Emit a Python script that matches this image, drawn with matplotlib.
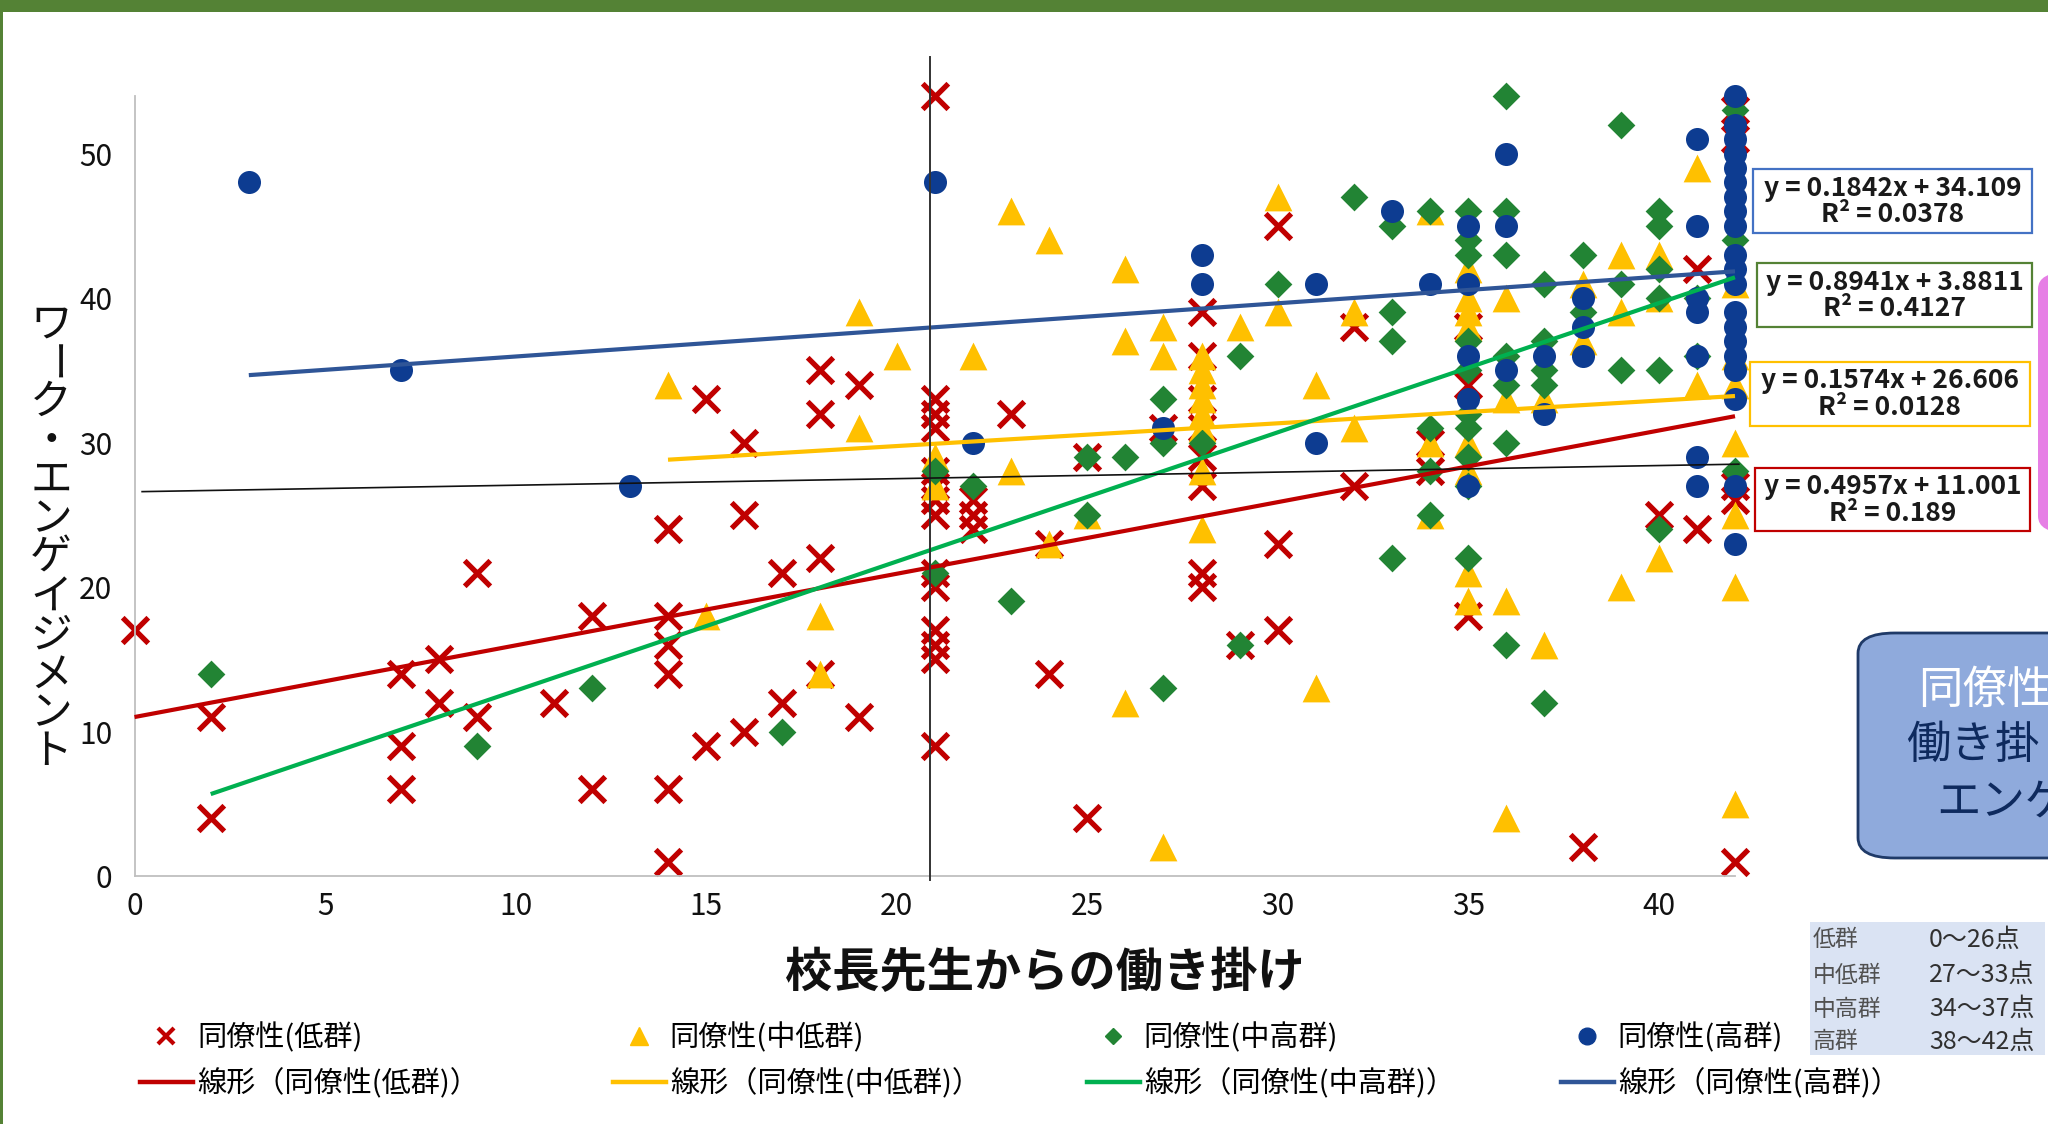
import matplotlib
matplotlib.use("Agg")
import matplotlib.pyplot as plt
import numpy as np
from matplotlib.lines import Line2D
from matplotlib.patches import Rectangle, FancyBboxPatch

plt.rcParams['font.family'] = ['Noto Sans CJK JP', 'DejaVu Sans']

# ---------------- data ----------------
# x: 校長先生からの働き掛け (score), y: ワーク・エンゲイジメント
# Each group: x columns and the y values observed at each column.
low_cols = [0, 2, 7, 8, 9, 11, 12, 14, 15, 16, 17, 18, 19, 21, 22, 23, 24, 25, 27, 28,
            29, 30, 32, 34, 35, 38, 40, 41, 42]
low_vals = [[17], [11, 4], [14, 9, 6], [15, 12], [21, 11], [12], [18, 6],
            [24, 18, 16, 14, 6, 1], [33, 9], [30, 25, 10], [21, 12], [35, 32, 22, 14],
            [34, 11], [54, 33, 32, 31, 28, 27, 26, 25, 21, 20, 17, 16, 15, 9],
            [26, 25, 24], [32], [23, 14], [29, 4], [31], [39, 36, 33, 31, 29, 27, 21, 20],
            [16], [45, 23, 17], [38, 27], [30, 28], [38, 34, 18], [2], [25], [42, 24],
            [53, 51, 27, 26, 1]]

midlow_cols = [14, 15, 18, 19, 20, 21, 22, 23, 24, 25, 26, 27, 28, 29, 30, 31, 32, 34,
               35, 36, 37, 38, 39, 40, 41, 42]
midlow_vals = [[34], [18], [18, 14], [39, 31], [36], [29, 27], [36], [46, 28], [44, 23],
               [25], [42, 37, 12], [38, 36, 2], [36, 35, 34, 33, 32, 31, 28, 24], [38],
               [47, 39], [34, 13], [39, 31], [46, 30, 25], [42, 40, 39, 38, 30, 28, 21, 19],
               [40, 33, 19, 4], [33, 16], [41, 37], [43, 39, 20], [43, 40, 22], [49, 34],
               [41, 36, 34, 30, 25, 20, 5]]

midhigh_cols = [2, 9, 12, 17, 21, 22, 23, 25, 26, 27, 28, 29, 30, 32, 33, 34, 35, 36, 37,
                38, 39, 40, 41, 42]
midhigh_vals = [[14], [9], [13], [10], [28, 21], [27], [19], [29, 25], [29], [33, 30, 13],
                [30], [36, 16], [41], [47], [45, 39, 37, 22], [46, 31, 28, 25],
                [46, 44, 43, 37, 35, 32, 31, 29, 27, 22], [54, 46, 43, 36, 34, 30, 16],
                [41, 37, 35, 34, 12], [43, 39], [52, 41, 35], [46, 45, 42, 40, 35, 24],
                [40, 36], [53, 44, 28]]

high_cols = [3, 7, 13, 21, 22, 27, 28, 31, 33, 34, 35, 36, 37, 38, 41, 42]
high_vals = [[48], [35], [27], [48], [30], [31], [43, 41], [41, 30], [46], [41],
             [45, 41, 36, 33, 27], [50, 45, 35], [36, 32], [40, 38, 36],
             [51, 45, 40, 39, 36, 29, 27],
             [54, 52, 51, 50, 49, 48, 47, 46, 45, 43, 42, 41, 39, 38, 37, 36, 35, 33, 27, 23]]

group_names = ['同僚性(低群)', '同僚性(中低群)', '同僚性(中高群)', '同僚性(高群)']

# Linear trend lines (slope, intercept, R²) per group
trend_slope = [0.4957, 0.1574, 0.8941, 0.1842]
trend_icept = [11.001, 26.606, 3.8811, 34.109]
trend_r2 = ['0.189', '0.0128', '0.4127', '0.0378']

# Reference lines
divider_x = 20.87
divider_top = 56.7
ref_line_x = [0.2, 42.1]
ref_line_y = [26.6, 28.5]

# Group score ranges
range_labels = ['低群', '中低群', '中高群', '高群']
range_values = ['0～26点', '27～33点', '34～37点', '38～42点']

box_lines = ['同僚性', '働き掛', 'エンゲ']

# ---------------- styling ----------------
W, H = 2048, 1124
def fx(px):
    return px / W
def fy(py):
    return 1 - py / H

marker_col = ['#C00000', '#FFC000', '#228434', '#0D3C91']
trend_col = ['#C00000', '#FFC000', '#00B050', '#2F5597']
box_edge = ['#C00000', '#FFC000', '#548235', '#4472C4']

fig = plt.figure(figsize=(W / 100, H / 100), dpi=100)
fig.patch.set_facecolor('white')

ax = fig.add_axes([fx(134.5), fy(876), fx(1735) - fx(134.5), fy(95.7) - fy(876)])
ax.set_xlim(0, 42)
ax.set_ylim(0, 54)
ax.set_xticks(np.arange(0, 41, 5))
ax.set_yticks(np.arange(0, 51, 10))
ax.tick_params(axis='both', length=0, labelsize=21.5, colors='#111111')
ax.tick_params(axis='x', pad=11)
ax.tick_params(axis='y', pad=16)
for s in ['top', 'right']:
    ax.spines[s].set_visible(False)
for s in ['left', 'bottom']:
    ax.spines[s].set_color('#BFBFBF')
    ax.spines[s].set_linewidth(1.3)

def expand(cols, vals):
    xs = np.repeat(cols, [len(v) for v in vals])
    ys = np.concatenate([np.asarray(v, dtype=float) for v in vals])
    return xs.astype(float), ys

series = [expand(low_cols, low_vals), expand(midlow_cols, midlow_vals),
          expand(midhigh_cols, midhigh_vals), expand(high_cols, high_vals)]

# markers: low (x), mid-low (triangle), mid-high (diamond), high (circle)
ax.scatter(*series[0], marker='x', s=340, linewidths=3.8, color=marker_col[0],
           zorder=2, clip_on=False)
ax.scatter(*series[1], marker='^', s=400, linewidths=0, color=marker_col[1],
           zorder=3, clip_on=False)
ax.scatter(*series[2], marker='D', s=200, linewidths=0, color=marker_col[2],
           zorder=4, clip_on=False)
ax.scatter(*series[3], marker='o', s=275, linewidths=0, color=marker_col[3],
           zorder=5, clip_on=False)

# trend lines over each group's x range
for i, (xs, ys) in enumerate(series):
    tx = np.array([xs.min(), xs.max()])
    ax.plot(tx, trend_slope[i] * tx + trend_icept[i], color=trend_col[i], lw=3.0,
            zorder=6, solid_capstyle='butt', clip_on=False)

ax.plot([divider_x, divider_x], [-0.3, divider_top], color='#333333', lw=1.4,
        zorder=7, clip_on=False)
ax.plot(ref_line_x, ref_line_y, color='#111111', lw=1.2, zorder=7, clip_on=False)

# axis titles
fig.text(fx(1045), fy(973), '校長先生からの働き掛け', fontsize=34, fontweight='bold',
         ha='center', va='center', color='#111111')
ylabel_chars = list('ワーク・エンゲイジメント')
y0, pitch = 325, 38.9
for k, ch in enumerate(ylabel_chars):
    rot = 270 if ch == 'ー' else 0
    fig.text(fx(51), fy(y0 + k * pitch), ch, fontsize=30, ha='center', va='center',
             rotation=rot, color='#111111')

# equation boxes (blue, green, yellow, red from top)
eq_order = [3, 2, 1, 0]
eq_boxes = [(1753, 169, 2032, 233), (1757, 263, 2032, 327),
            (1750, 362, 2030, 426), (1755, 468, 2030, 531)]
for gi, (x0, y0b, x1, y1b) in zip(eq_order, eq_boxes):
    fig.patches.append(Rectangle((fx(x0), fy(y1b)), fx(x1) - fx(x0), fy(y0b) - fy(y1b),
                                 transform=fig.transFigure, facecolor='white',
                                 edgecolor=box_edge[gi], lw=1.6, zorder=5))
    cx = (x0 + x1) / 2
    cy = (y0b + y1b) / 2
    fig.text(fx(cx), fy(cy - 13), f'y = {trend_slope[gi]}x + {trend_icept[gi]}',
             fontsize=19, fontweight='bold', ha='center', va='center', color='#1a1a1a',
             zorder=6)
    fig.text(fx(cx), fy(cy + 14), f'R² = {trend_r2[gi]}', fontsize=19,
             fontweight='bold', ha='center', va='center', color='#1a1a1a', zorder=6)

# side call-out shapes
fig.patches.append(FancyBboxPatch((fx(2038), fy(533)), fx(300), fy(272) - fy(533),
                                  boxstyle='round,pad=0,rounding_size=0.015',
                                  transform=fig.transFigure, facecolor='#E67FE5',
                                  edgecolor='none', zorder=1))
fig.patches.append(FancyBboxPatch((fx(1858), fy(858)), fx(400), fy(633) - fy(858),
                                  boxstyle='round,pad=0,rounding_size=0.018',
                                  transform=fig.transFigure, facecolor='#8FAADC',
                                  edgecolor='#1F3A68', lw=2, zorder=1))
box_starts = [(1918, 690, 'white'), (1906, 745, '#0E2A5E'), (1936, 802, '#0E2A5E')]
for txt, (bx, by, bc) in zip(box_lines, box_starts):
    fig.text(fx(bx), fy(by), txt, fontsize=32, ha='left', va='center', color=bc,
             zorder=3)

# group range table
fig.patches.append(Rectangle((fx(1810), fy(1055)), fx(2045) - fx(1810), fy(922) - fy(1055),
                             transform=fig.transFigure, facecolor='#DAE3F3',
                             edgecolor='none', zorder=1))
for k, (lab, val) in enumerate(zip(range_labels, range_values)):
    yy = [940, 975, 1009, 1042][k]
    fig.text(fx(1813), fy(yy), lab, fontsize=16.5, ha='left', va='center', color='#505050')
    fig.text(fx(1929), fy(yy), val, fontsize=18, ha='left', va='center', color='#303030')

# legend: one two-row column per group
leg_markers = [dict(marker='x', markersize=12, mew=3.0), dict(marker='^', markersize=13),
               dict(marker='D', markersize=8.5), dict(marker='o', markersize=12)]
leg_left = [140, 613, 1087, 1561]
for i in range(4):
    h1 = Line2D([], [], ls='', color=marker_col[i], mec=marker_col[i], **leg_markers[i])
    h2 = Line2D([], [], color=trend_col[i], lw=3.2)
    lg = fig.legend([h1, h2], [group_names[i], f'線形（{group_names[i]}）'],
                    loc='center left', bbox_to_anchor=(fx(leg_left[i]), fy(1061)),
                    bbox_transform=fig.transFigure, frameon=False, fontsize=21,
                    handlelength=1.8, handletextpad=0.15, labelspacing=0.55,
                    borderpad=0, borderaxespad=0)

# slide frame
fig.patches.append(Rectangle((0, fy(12)), 1, 12 / H, transform=fig.transFigure,
                             facecolor='#548235', edgecolor='none', zorder=10))
fig.patches.append(Rectangle((0, 0), 3 / W, 1, transform=fig.transFigure,
                             facecolor='#548235', edgecolor='none', zorder=10))

fig.savefig('out.png', dpi=100)
